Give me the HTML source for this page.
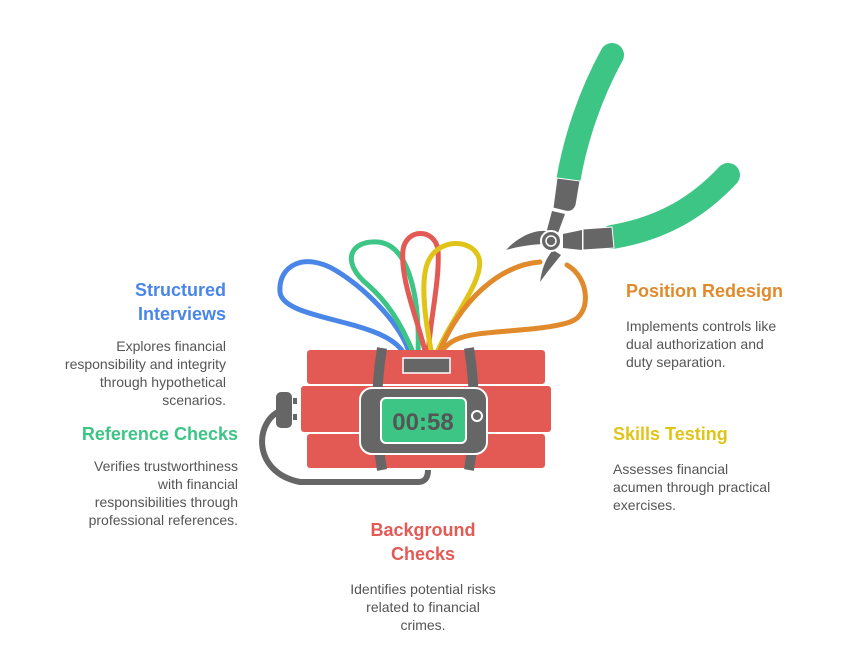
<!DOCTYPE html>
<html><head><style>
body{margin:0;background:#fff;}
svg text{font-family:"Liberation Sans",sans-serif;}
.h{font-weight:bold;font-size:18px;}
.d{font-size:14px;fill:#555;}
</style></head><body>
<svg width="852" height="661" viewBox="0 0 852 661" xmlns="http://www.w3.org/2000/svg">
<!-- wires -->
<g fill="none" stroke-width="5" stroke-linecap="round">
<path d="M410 355 C400 320 360 285 335 270 C305 252 278 265 280 292 C283 322 390 318 405 356" stroke="#4a86e8"/>
<path d="M414 355 C400 320 385 300 368 285 C340 262 350 240 378 242 C410 245 420 300 418 355" stroke="#3dc585"/>
<path d="M426 355 C418 320 400 280 403 250 C406 228 435 228 438 250 C440 280 430 320 428 355" stroke="#e35a55"/>
<path d="M432 355 C425 320 420 280 428 262 C438 238 472 238 479 258 C485 280 450 320 436 355" stroke="#e0c518"/>
<path d="M438 355 C460 300 500 265 540 262 M567 265 C590 278 592 315 570 322 C540 332 480 330 460 338 C448 342 442 350 440 355" stroke="#e08a2c"/>
</g>
<!-- pliers -->
<path d="M568 182 C575 140 590 95 612 55" stroke="#3dc585" stroke-width="24" fill="none" stroke-linecap="round"/>
<path d="M612 237 C665 228 700 205 728 175" stroke="#3dc585" stroke-width="24" fill="none" stroke-linecap="round"/>
<path d="M557 178 L580 181 L576 205 Q573 213 565 211 L553 208 Z" fill="#666" stroke="#fff" stroke-width="1"/>
<path d="M552 211 L565 214 L558 233 L547 230Z" fill="#666"/>
<path d="M563 234 L582 230 L582 250 L563 248Z" fill="#666"/>
<path d="M583 229 L612 227 L614 248 L583 250Z" fill="#666" stroke="#fff" stroke-width="1"/>
<path d="M506 250 C520 235 538 228 551 232 L547 244 C535 244 520 246 506 250Z" fill="#666"/>
<path d="M540 282 C542 268 546 258 553 250 L561 255 C554 264 547 272 540 282Z" fill="#666"/>
<circle cx="551" cy="241" r="10" fill="#666" stroke="#fff" stroke-width="2"/>
<circle cx="551" cy="241" r="5" fill="#666" stroke="#fff" stroke-width="1.5"/>
<!-- plug cable -->
<path d="M283 410 C255 418 250 472 300 482 L418 482 Q428 482 428 470" stroke="#666" stroke-width="6" fill="none"/>
<rect x="276" y="392" width="16" height="36" rx="5" fill="#666"/>
<rect x="293" y="398" width="4" height="6" fill="#666"/><rect x="293" y="414" width="4" height="6" fill="#666"/>
<!-- dynamite -->
<rect x="307" y="350" width="238" height="34" rx="3" fill="#e35a55"/>
<rect x="301" y="386" width="250" height="46" rx="3" fill="#e35a55"/>
<rect x="307" y="434" width="238" height="34" rx="3" fill="#e35a55"/>
<path d="M382 348 Q372 410 382 470" stroke="#666" stroke-width="10" fill="none"/>
<path d="M469 348 Q479 410 469 470" stroke="#666" stroke-width="10" fill="none"/>
<rect x="403" y="358" width="47" height="15" fill="#666" stroke="#fff" stroke-width="1.5"/>
<rect x="360" y="388" width="127" height="66" rx="12" fill="#666" stroke="#fff" stroke-width="2"/>
<rect x="381" y="398" width="85" height="45" rx="5" fill="#3dc585" stroke="#fff" stroke-width="2"/>
<text x="423" y="430" text-anchor="middle" font-size="24" font-weight="bold" fill="#555">00:58</text>
<circle cx="477" cy="416" r="5" fill="#666" stroke="#fff" stroke-width="2"/>
<!-- texts -->
<text class="h" fill="#4a86e8" text-anchor="end" x="226" y="296">Structured</text>
<text class="h" fill="#4a86e8" text-anchor="end" x="226" y="320">Interviews</text>
<g class="d" text-anchor="end"><text x="226" y="351">Explores financial</text><text x="226" y="369">responsibility and integrity</text><text x="226" y="387">through hypothetical</text><text x="226" y="405">scenarios.</text></g>
<text class="h" fill="#3dc585" text-anchor="end" x="238" y="440">Reference Checks</text>
<g class="d" text-anchor="end"><text x="238" y="471">Verifies trustworthiness</text><text x="238" y="489">with financial</text><text x="238" y="507">responsibilities through</text><text x="238" y="525">professional references.</text></g>
<text class="h" fill="#e08a2c" x="626" y="297">Position Redesign</text>
<g class="d"><text x="626" y="331">Implements controls like</text><text x="626" y="349">dual authorization and</text><text x="626" y="367">duty separation.</text></g>
<text class="h" fill="#e0c518" x="613" y="440">Skills Testing</text>
<g class="d"><text x="613" y="474">Assesses financial</text><text x="613" y="492">acumen through practical</text><text x="613" y="510">exercises.</text></g>
<text class="h" fill="#e35a55" text-anchor="middle" x="423" y="536">Background</text>
<text class="h" fill="#e35a55" text-anchor="middle" x="423" y="560">Checks</text>
<g class="d" text-anchor="middle"><text x="423" y="594">Identifies potential risks</text><text x="423" y="612">related to financial</text><text x="423" y="630">crimes.</text></g>
</svg>
</body></html>
